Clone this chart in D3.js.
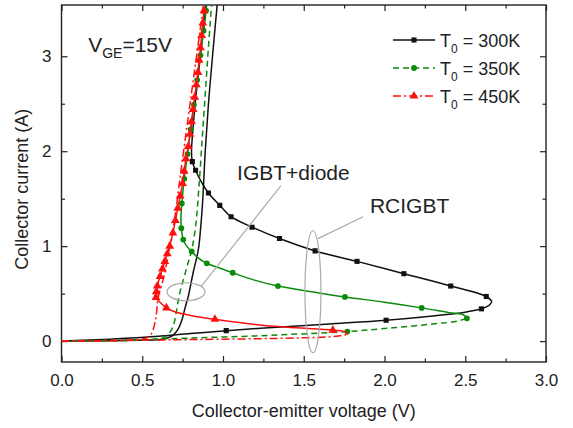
<!DOCTYPE html>
<html>
<head>
<meta charset="utf-8">
<script src="https://cdn.jsdelivr.net/npm/d3@7"></script>
<style>
  body { margin: 0; background: #fff; }
  text { font-family: "Liberation Sans", Arial, sans-serif; fill: #222; }
</style>
</head>
<body>
<div id="chart"></div>
<script>
// data: [voltage (V), current (A)]
const xTicks = [0, 0.5, 1.0, 1.5, 2.0, 2.5, 3.0];
const xMinor = [0.25, 0.75, 1.25, 1.75, 2.25, 2.75];
const yTicks = [0, 1, 2, 3];
const yMinor = [0.5, 1.5, 2.5];

const temps = ["300K", "350K", "450K"];
const colors = ["#111111", "#0a8a0a", "#ff1010"];

// IGBT+diode curves (no markers)
const igbt300 = [[0,0],[0.2,0.003],[0.4,0.007],[0.55,0.012],[0.62,0.02],[0.66,0.035],[0.69,0.06],[0.72,0.12],[0.745,0.22],[0.765,0.35],[0.785,0.47],[0.815,0.72],[0.847,0.96],[0.862,1.2],[0.875,1.5],[0.89,2.0],[0.91,2.5],[0.935,3.0],[0.965,3.56]];
const igbt350 = [[0,0],[0.3,0.004],[0.5,0.01],[0.58,0.018],[0.63,0.035],[0.66,0.07],[0.69,0.15],[0.71,0.3],[0.73,0.49],[0.755,0.65],[0.78,0.8],[0.806,0.96],[0.83,1.2],[0.85,1.6],[0.87,2.1],[0.89,2.6],[0.91,3.1],[0.93,3.56]];
const igbt450 = [[0,0],[0.3,0.005],[0.45,0.012],[0.52,0.03],[0.55,0.06],[0.58,0.2],[0.60,0.47],[0.63,0.65],[0.66,0.9],[0.68,1.07],[0.71,1.4],[0.74,1.8],[0.78,2.3],[0.82,2.8],[0.86,3.3],[0.88,3.56]];

// RCIGBT: low-current branch up to the snapback tip
const rcLow300 = [[0,0],[0.3,0.02],[0.55,0.045],[0.8,0.08],[1.02,0.11],[1.41,0.155],[1.7,0.185],[2.01,0.22],[2.3,0.265],[2.5,0.305],[2.6,0.34],[2.65,0.38],[2.665,0.42]];
const rcLow350 = [[0,0],[0.3,0.008],[0.6,0.022],[0.9,0.038],[1.2,0.055],[1.41,0.07],[1.77,0.10],[2.05,0.14],[2.3,0.18],[2.45,0.21],[2.51,0.24]];
const rcLow450 = [[0,0],[0.4,0.008],[0.8,0.016],[1.2,0.025],[1.5,0.035],[1.7,0.05],[1.77,0.07]];

// RCIGBT: snapback branch from the tip upwards
const rcHigh300 = [[2.665,0.42],[2.63,0.47],[2.41,0.58],[2.12,0.71],[1.83,0.84],[1.57,0.95],[1.35,1.08],[1.18,1.2],[1.05,1.31],[0.98,1.43],[0.91,1.56],[0.865,1.68],[0.83,1.8],[0.81,1.89],[0.805,2.0],[0.81,2.15],[0.825,2.45],[0.84,2.7],[0.86,3.0],[0.88,3.3],[0.895,3.56]];
const rcHigh350 = [[2.51,0.24],[2.49,0.275],[2.40,0.30],[2.23,0.35],[2.0,0.41],[1.755,0.465],[1.55,0.52],[1.34,0.58],[1.2,0.64],[1.06,0.72],[0.96,0.78],[0.90,0.82],[0.84,0.885],[0.806,0.945],[0.775,1.0],[0.754,1.07],[0.742,1.19],[0.74,1.32],[0.745,1.45],[0.752,1.58],[0.76,1.71],[0.77,1.84],[0.78,1.97],[0.79,2.1],[0.80,2.23],[0.81,2.36],[0.82,2.49],[0.83,2.62],[0.84,2.75],[0.85,2.88],[0.86,3.01],[0.87,3.14],[0.88,3.27],[0.89,3.40],[0.90,3.56]];
const rcHigh450 = [[1.77,0.07],[1.76,0.095],[1.68,0.115],[1.4,0.145],[1.2,0.175],[0.95,0.23],[0.8,0.27],[0.7,0.31],[0.65,0.35],[0.61,0.41],[0.585,0.46],[0.587,0.52],[0.593,0.58],[0.61,0.68],[0.625,0.76],[0.64,0.84],[0.655,0.92],[0.67,1.0],[0.69,1.14],[0.705,1.27],[0.72,1.4],[0.735,1.53],[0.75,1.66],[0.76,1.79],[0.77,1.92],[0.785,2.05],[0.795,2.18],[0.805,2.31],[0.815,2.44],[0.825,2.57],[0.835,2.7],[0.845,2.83],[0.852,2.96],[0.86,3.09],[0.868,3.22],[0.875,3.35],[0.882,3.48]];

// marker positions on the RCIGBT curves
const marks300 = [[1.02,0.11],[2.01,0.22],[2.6,0.34],[2.63,0.47],[2.41,0.58],[2.12,0.71],[1.83,0.84],[1.57,0.95],[1.35,1.08],[1.18,1.2],[1.05,1.31],[0.98,1.43],[0.91,1.56],[0.83,1.8],[0.81,1.89]];
const marks350 = [[1.77,0.10],[2.51,0.24],[2.23,0.35],[1.755,0.465],[1.34,0.58],[1.06,0.72],[0.90,0.82],[0.806,0.945],[0.754,1.07],[0.742,1.19],[0.745,1.45],[0.76,1.71],[0.78,1.97],[0.80,2.23],[0.82,2.49],[0.84,2.75],[0.86,3.01],[0.88,3.27],[0.895,3.48]];
const marks450 = [[1.68,0.115],[0.95,0.23],[0.65,0.35],[0.585,0.46],[0.587,0.52],[0.593,0.58],[0.61,0.68],[0.625,0.76],[0.64,0.84],[0.655,0.92],[0.67,1.0],[0.69,1.14],[0.705,1.27],[0.72,1.4],[0.735,1.53],[0.75,1.66],[0.76,1.79],[0.77,1.92],[0.785,2.05],[0.795,2.18],[0.805,2.31],[0.815,2.44],[0.825,2.57],[0.835,2.7],[0.845,2.83],[0.852,2.96],[0.86,3.09],[0.868,3.22],[0.875,3.35],[0.882,3.48]];

const margin = {top: 5, right: 27, bottom: 66, left: 61.5};
const width = 573 - margin.left - margin.right;
const height = 428 - margin.top - margin.bottom;

const svg = d3.select("#chart").append("svg")
    .attr("width", 573)
    .attr("height", 428);

const g = svg.append("g")
    .attr("transform", "translate(" + margin.left + "," + margin.top + ")");

const x = d3.scaleLinear().domain([0, 3]).range([0, width]);
const y = d3.scaleLinear().domain([-0.22, 3.54]).range([height, 0]);

g.append("clipPath").attr("id", "clip")
    .append("rect").attr("width", width).attr("height", height);

// axes, ticks pointing inwards on all four sides
function addAxis(axis, tr, vals, size) {
    const a = g.append("g")
        .attr("transform", tr)
        .call(axis.tickValues(vals).tickSize(-size).tickFormat(""));
    a.select(".domain").remove();
    a.selectAll("line").attr("stroke", "#222").attr("stroke-width", 1.2);
    return a;
}

const bottom = g.append("g")
    .attr("transform", "translate(0," + height + ")")
    .call(d3.axisBottom(x).tickValues(xTicks).tickSize(-6).tickPadding(12).tickFormat(d3.format(".1f")));
bottom.select(".domain").remove();
bottom.selectAll("line").attr("stroke", "#222").attr("stroke-width", 1.2);
addAxis(d3.axisBottom(x), "translate(0," + height + ")", xMinor, 3.5);
addAxis(d3.axisTop(x), "translate(0,0)", xTicks, 6);
addAxis(d3.axisTop(x), "translate(0,0)", xMinor, 3.5);

const left = g.append("g")
    .call(d3.axisLeft(y).tickValues(yTicks).tickSize(-6).tickPadding(10).tickFormat(d3.format("d")));
left.select(".domain").remove();
left.selectAll("line").attr("stroke", "#222").attr("stroke-width", 1.2);
addAxis(d3.axisLeft(y), "translate(0,0)", yMinor, 3.5);
addAxis(d3.axisRight(y), "translate(" + width + ",0)", yTicks, 6);
addAxis(d3.axisRight(y), "translate(" + width + ",0)", yMinor, 3.5);

g.selectAll(".tick text")
    .style("font-size", "17px")
    .attr("fill", "#222");

g.append("rect")
    .attr("width", width)
    .attr("height", height)
    .attr("fill", "none")
    .attr("stroke", "#222")
    .attr("stroke-width", 1.4);

// axis titles
svg.append("text")
    .attr("x", margin.left + width / 2)
    .attr("y", 417)
    .attr("text-anchor", "middle")
    .style("font-size", "18px")
    .text("Collector-emitter voltage (V)");

svg.append("text")
    .attr("transform", "translate(28," + (margin.top + y(1.6)) + ") rotate(-90)")
    .attr("text-anchor", "middle")
    .style("font-size", "18px")
    .text("Collector current (A)");

// curves
const line = d3.line()
    .x(d => x(d[0]))
    .y(d => y(d[1]))
    .curve(d3.curveCatmullRom.alpha(0.5));

const dashes = [null, "6,4", "8,3,2,3"];
const plot = g.append("g").attr("clip-path", "url(#clip)");

const igbt = [igbt300, igbt350, igbt450];
const rcLow = [rcLow300, rcLow350, rcLow450];
const rcHigh = [rcHigh300, rcHigh350, rcHigh450];
const marks = [marks300, marks350, marks450];
const symbols = [d3.symbolSquare, d3.symbolCircle, d3.symbolTriangle];
const symSize = [26, 26, 34];

for (let k = 0; k < 3; k++) {
    plot.append("path")
        .datum(igbt[k])
        .attr("fill", "none")
        .attr("stroke", colors[k])
        .attr("stroke-width", 1.5)
        .attr("stroke-dasharray", dashes[k])
        .attr("d", line);

    plot.append("path")
        .datum(rcLow[k])
        .attr("fill", "none")
        .attr("stroke", colors[k])
        .attr("stroke-width", 1.5)
        .attr("stroke-dasharray", dashes[k])
        .attr("d", line);

    plot.append("path")
        .datum(rcHigh[k])
        .attr("fill", "none")
        .attr("stroke", colors[k])
        .attr("stroke-width", 1.5)
        .attr("d", line);

    plot.selectAll(".m" + k)
        .data(marks[k])
        .enter().append("path")
        .attr("class", "m" + k)
        .attr("transform", d => "translate(" + x(d[0]) + "," + y(d[1]) + ")")
        .attr("d", d3.symbol().type(symbols[k]).size(symSize[k]))
        .attr("fill", colors[k]);
}

// annotations
const gray = "#aaaaaa";
g.append("ellipse")
    .attr("cx", x(0.771)).attr("cy", y(0.52))
    .attr("rx", 19).attr("ry", 9)
    .attr("fill", "none").attr("stroke", gray).attr("stroke-width", 1.2);
g.append("line")
    .attr("x1", x(0.864)).attr("y1", y(0.574))
    .attr("x2", x(1.359)).attr("y2", y(1.637))
    .attr("stroke", gray).attr("stroke-width", 1.2);
g.append("ellipse")
    .attr("cx", x(1.557)).attr("cy", y(0.52))
    .attr("rx", 8).attr("ry", 61)
    .attr("fill", "none").attr("stroke", gray).attr("stroke-width", 1.2);
g.append("line")
    .attr("x1", x(1.588)).attr("y1", y(1.079))
    .attr("x2", x(1.867)).attr("y2", y(1.31))
    .attr("stroke", gray).attr("stroke-width", 1.2);

g.append("text")
    .attr("x", x(1.087)).attr("y", y(1.70))
    .style("font-size", "21px")
    .text("IGBT+diode");
g.append("text")
    .attr("x", x(1.91)).attr("y", y(1.35))
    .style("font-size", "21px")
    .text("RCIGBT");

const vge = g.append("text")
    .attr("x", x(0.165)).attr("y", y(3.05))
    .style("font-size", "21px");
vge.append("tspan").text("V");
vge.append("tspan").attr("dy", 6).style("font-size", "14px").text("GE");
vge.append("tspan").attr("dy", -6).text("=15V");

// legend
const legend = svg.append("g").attr("transform", "translate(393,40)");
temps.forEach((t, k) => {
    const row = legend.append("g").attr("transform", "translate(0," + (k * 28) + ")");
    row.append("line")
        .attr("x1", 0).attr("x2", 42)
        .attr("stroke", colors[k])
        .attr("stroke-width", 1.5)
        .attr("stroke-dasharray", dashes[k]);
    row.append("path")
        .attr("transform", "translate(21,0)")
        .attr("d", d3.symbol().type(symbols[k]).size(symSize[k]))
        .attr("fill", colors[k]);
    const txt = row.append("text")
        .attr("x", 47).attr("y", 7)
        .style("font-size", "18px");
    txt.append("tspan").text("T");
    txt.append("tspan").attr("dy", 6).style("font-size", "12px").text("0");
    txt.append("tspan").attr("dy", -6).text(" = " + t);
});
</script>
</body>
</html>
